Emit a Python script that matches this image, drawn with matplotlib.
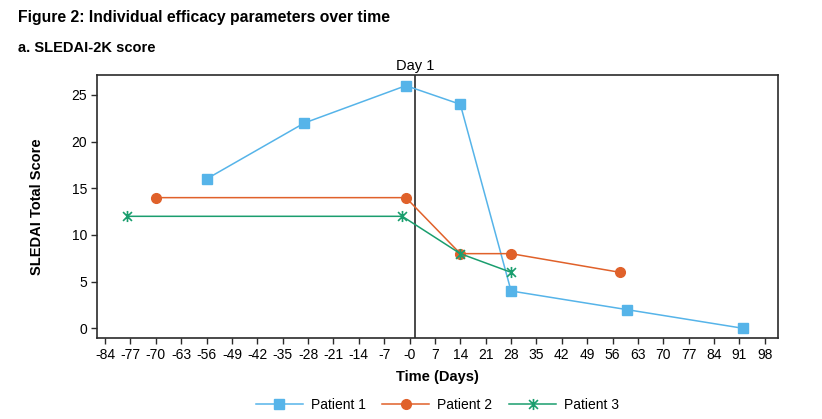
import matplotlib
matplotlib.use("Agg")
import matplotlib.pyplot as plt
from matplotlib.path import Path

plt.rcParams['font.family'] = ['Liberation Sans', 'DejaVu Sans']

# data
p1_days = [-56, -29, -1, 14, 28, 60, 92]
p1_score = [16, 22, 26, 24, 4, 2, 0]
p2_days = [-70, -1, 14, 28, 58]
p2_score = [14, 14, 8, 8, 6]
p3_days = [-78, -2, 14, 28]
p3_score = [12, 12, 8, 6]
x_ticks = list(range(-84, 99, 7))
x_labels = ['-0' if t == 0 else str(t) for t in x_ticks]
y_ticks = [0, 5, 10, 15, 20, 25]
day1_x = 1.5

blue = '#56B4E9'
orange = '#E0612A'
green = '#1A9E6E'
edge = '#2b2b2b'

# x with a vertical bar, like the reference's patient 3 marker
star_x = Path([(-0.8, -0.8), (0.8, 0.8), (-0.8, 0.8), (0.8, -0.8),
               (0, -1.0), (0, 1.0)],
              [Path.MOVETO, Path.LINETO, Path.MOVETO, Path.LINETO,
               Path.MOVETO, Path.LINETO])

fig = plt.figure(figsize=(8.22, 4.19), dpi=100)
ax = fig.add_axes([0.1176, 0.1926, 0.8292, 0.6284])

ax.plot(p1_days, p1_score, color=blue, lw=1.1, marker='s', ms=6.5,
        label='Patient 1', zorder=3)
ax.plot(p2_days, p2_score, color=orange, lw=1.1, marker='o', ms=7,
        label='Patient 2', zorder=3)
ax.plot(p3_days, p3_score, color=green, lw=1.1, marker=star_x, ms=8,
        mew=1.2, label='Patient 3', zorder=4)

ax.axvline(day1_x, color=edge, lw=1.2, zorder=2)
ax.text(day1_x, 27.4, 'Day 1', ha='center', va='bottom', fontsize=10.5)

ax.set_xlim(-86.3, 101.7)
ax.set_ylim(-1.07, 27.14)
ax.set_xticks(x_ticks)
ax.set_xticklabels(x_labels)
ax.set_yticks(y_ticks)
ax.tick_params(axis='both', labelsize=10, length=4, width=1, color=edge,
               direction='out', pad=3)
for s in ax.spines.values():
    s.set_linewidth(1.2)
    s.set_color(edge)

ax.set_xlabel('Time (Days)', fontsize=10.5, fontweight='bold', labelpad=6)
ax.set_ylabel('SLEDAI Total Score', fontsize=10.5, fontweight='bold',
              labelpad=20)

fig.text(0.022, 0.958, 'Figure 2: Individual efficacy parameters over time',
         fontsize=11.3, fontweight='bold', va='center')
fig.text(0.022, 0.885, 'a. SLEDAI-2K score', fontsize=10.5, fontweight='bold',
         va='center')

fig.legend(loc='center', bbox_to_anchor=(0.532, 0.033), ncol=3, frameon=False,
           fontsize=10, handlelength=3.4, columnspacing=1.2, handletextpad=0.55)

fig.savefig('out.png', dpi=100)
